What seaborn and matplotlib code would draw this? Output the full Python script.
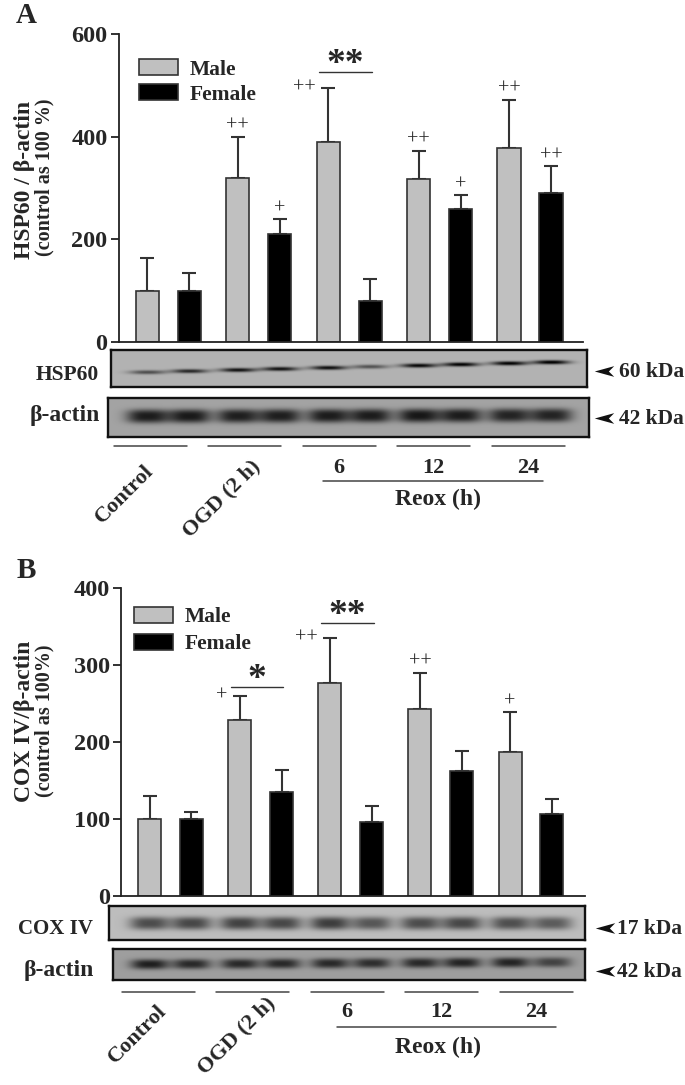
import numpy as np
import pandas as pd
import seaborn as sns
import matplotlib
matplotlib.use("Agg")
import matplotlib.pyplot as plt
from matplotlib.path import Path

# ---------------- data ----------------
groups = ["Control", "OGD (2 h)", "6", "12", "24"]
sexes = ["Male", "Female"]

hsp60_male = [100, 320, 390, 318, 378]
hsp60_male_sem = [64, 80, 105, 55, 94]
hsp60_female = [100, 210, 80, 259, 290]
hsp60_female_sem = [35, 30, 43, 27, 53]
hsp60_male_sig = ["", "++", "++", "++", "++"]
hsp60_female_sig = ["", "+", "", "+", "++"]
hsp60_brackets = [(2, 526, "**")]
hsp60_yticks = [0, 200, 400, 600]

cox4_male = [100, 229, 277, 243, 187]
cox4_male_sem = [30, 31, 58, 47, 52]
cox4_female = [100, 135, 96, 162, 107]
cox4_female_sem = [9, 29, 21, 26, 19]
cox4_male_sig = ["", "+", "++", "++", "+"]
cox4_female_sig = ["", "", "", "", ""]
cox4_brackets = [(1, 271, "*"), (2, 355, "**")]
cox4_yticks = [0, 100, 200, 300, 400]

# western blot band strengths, lanes in order M,F,M,F,...
hsp60_band = [0.40, 0.55, 0.64, 0.64, 0.65, 0.38, 0.68, 0.70, 0.70, 0.72]
actinA_band = [0.53, 0.54, 0.52, 0.52, 0.53, 0.53, 0.55, 0.53, 0.50, 0.50]
cox4_band = [0.44, 0.46, 0.48, 0.46, 0.50, 0.40, 0.44, 0.46, 0.43, 0.38]
actinB_band = [0.50, 0.46, 0.46, 0.46, 0.46, 0.44, 0.46, 0.48, 0.48, 0.36]

# ---------------- style ----------------
sns.set_style("ticks")
plt.rcParams["font.family"] = ["Liberation Serif", "DejaVu Serif"]
plt.rcParams["axes.linewidth"] = 1.3

W, H = 685, 1085
fig = plt.figure(figsize=(W / 100, H / 100), dpi=100)
GRAY = "#c0c0c0"
EDGE = "#333333"


def px_axes(x0, y0, x1, y1, **kw):
    return fig.add_axes([x0 / W, 1 - y1 / H, (x1 - x0) / W, (y1 - y0) / H], **kw)


ov = px_axes(0, 0, W, H)
ov.set_xlim(0, W)
ov.set_ylim(H, 0)
ov.axis("off")


def to_px(ax, x, y):
    dx, dy = ax.transData.transform((x, y))
    return dx, H - dy


def bar_panel(box, xlim, ylim, male, male_sem, female, female_sem, msig, fsig,
              brackets, yticks, leg_anchor, leg_pitch):
    ax = px_axes(*box)
    df = pd.DataFrame({
        "group": groups * 2,
        "sex": ["Male"] * len(groups) + ["Female"] * len(groups),
        "value": male + female,
    })
    sns.barplot(data=df, x="group", y="value", hue="sex", order=groups,
                hue_order=sexes, palette={"Male": GRAY, "Female": "black"},
                edgecolor=EDGE, linewidth=1.2, width=0.93, gap=0.45,
                errorbar=None, saturation=1, ax=ax)
    xs_m = [b.get_x() + b.get_width() / 2 for b in ax.containers[0]]
    xs_f = [b.get_x() + b.get_width() / 2 for b in ax.containers[1]]
    for xs, vals, sems in ((xs_m, male, male_sem), (xs_f, female, female_sem)):
        ax.errorbar(xs, vals, yerr=[np.zeros(len(vals)), sems], fmt="none",
                    ecolor=EDGE, elinewidth=1.5, capsize=4.7, capthick=1.5,
                    zorder=0.8)
    ax.set_xlim(*xlim)
    ax.set_ylim(*ylim)
    ax.set_yticks(yticks)
    ax.set_xlabel("")
    ax.set_ylabel("")
    sns.despine(ax=ax)
    for s in ("left", "bottom"):
        ax.spines[s].set_color("#222222")
    ax.tick_params(axis="x", length=0, labelbottom=False)
    ax.tick_params(axis="y", length=6, width=1.3, pad=2, labelsize=17.5,
                   color="#222222")
    for t in ax.get_yticklabels():
        t.set_fontweight("bold")

    br_groups = {g for g, _, _ in brackets}
    for xs, vals, sems, sig, is_male in ((xs_m, male, male_sem, msig, True),
                                         (xs_f, female, female_sem, fsig, False)):
        for i, lab in enumerate(sig):
            if not lab:
                continue
            top = vals[i] + sems[i]
            if is_male and i in br_groups:
                ax.annotate(lab, (xs[i], top), xytext=(-9, 0),
                            textcoords="offset points", ha="right", va="center",
                            fontsize=14.5)
            else:
                ax.annotate(lab, (xs[i], top), xytext=(0, 0.5),
                            textcoords="offset points", ha="center",
                            va="bottom", fontsize=14.5)
    for g, yv, lab in brackets:
        x0 = xs_m[g] - 0.1
        x1 = xs_f[g] + 0.02
        ax.plot([x0, x1], [yv, yv], color=EDGE, lw=1.0)
        ax.annotate(lab, ((x0 + x1) / 2, yv), xytext=(0, -1.5),
                    textcoords="offset points", ha="center", va="baseline",
                    fontsize=27, fontweight="bold")

    leg = ax.get_legend()
    handles = leg.legend_handles
    labels = [t.get_text() for t in leg.texts]
    leg.remove()
    for h in handles:
        h.set_edgecolor(EDGE)
        h.set_linewidth(1.2)
    fs = 15.5
    ax.legend(handles, labels, loc="upper left", bbox_to_anchor=leg_anchor,
              frameon=False, borderpad=0, borderaxespad=0,
              prop={"weight": "bold", "size": fs},
              handlelength=1.8, handleheight=0.74, handletextpad=0.55,
              labelspacing=leg_pitch)
    return ax, xs_m, xs_f


axA, amx, afx = bar_panel((118.5, 34, 583, 342), (-0.553, 4.586), (0, 600),
                          hsp60_male, hsp60_male_sem, hsp60_female, hsp60_female_sem,
                          hsp60_male_sig, hsp60_female_sig, hsp60_brackets,
                          hsp60_yticks, (0.044, 0.918), 0.22)
axB, bmx, bfx = bar_panel((121, 588, 585, 896), (-0.549, 4.599), (0, 400),
                          cox4_male, cox4_male_sem, cox4_female, cox4_female_sem,
                          cox4_male_sig, cox4_female_sig, cox4_brackets,
                          cox4_yticks, (0.028, 0.938), 0.3)


# ---------------- western blot strips ----------------
def blot(box, ax_bar, xs_m, xs_f, bands, bg, yc0, yc1, wx, wy, ex=2.6, ey=2.6):
    x0, y0, x1, y1 = box
    ax = px_axes(x0, y0, x1, y1)
    lanes = []
    for m, f in zip(xs_m, xs_f):
        lanes.append(to_px(ax_bar, m, 0)[0])
        lanes.append(to_px(ax_bar, f, 0)[0])
    xs = np.arange(x0, x1, 0.5)
    ys = np.arange(y0, y1, 0.5)
    X, Y = np.meshgrid(xs, ys)
    img = np.full(X.shape, bg)
    n = len(lanes)
    for k, (xc, a) in enumerate(zip(lanes, bands)):
        yc = yc0 + (yc1 - yc0) * k / (n - 1)
        img -= a * np.exp(-np.abs((X - xc) / wx) ** ex) * np.exp(-np.abs((Y - yc) / wy) ** ey)
    ax.imshow(np.clip(img, 0, 1), cmap="gray", vmin=0, vmax=1,
              extent=(x0, x1, y1, y0), aspect="auto", interpolation="bilinear")
    ax.set_xlim(x0, x1)
    ax.set_ylim(y1, y0)
    ax.set_xticks([])
    ax.set_yticks([])
    for s in ax.spines.values():
        s.set_visible(True)
        s.set_linewidth(1.7)
        s.set_color("#111111")
    return ax


blot((111, 350, 587, 387), axA, amx, afx, hsp60_band, 0.70, 372, 362, 18, 2.0, 2.4, 2.2)
blot((108, 398, 589, 437), axA, amx, afx, actinA_band, 0.64, 416, 415, 21, 6.8, 3.0, 2.8)
blot((109, 906, 585, 940), axB, bmx, bfx, cox4_band, 0.74, 923, 923, 20, 6.5, 3.0, 2.8)
blot((113, 949, 585, 980), axB, bmx, bfx, actinB_band, 0.62, 964, 962, 19, 5.0, 3.0, 2.6)

# ---------------- text / labels ----------------
bold = dict(fontweight="bold")
ov.text(16, 23, "A", fontsize=21, ha="left", va="baseline", **bold)
ov.text(17, 578, "B", fontsize=21, ha="left", va="baseline", **bold)

for (xa, ya, t1), (xb, yb, t2) in (((30, 180, "HSP60 / \u03b2-actin"), (49, 177, "(control as 100 %)")),
                                   ((30, 721, "COX IV/\u03b2-actin"), (49, 721, "(control as 100%)"))):
    ov.text(xa, ya, t1, rotation=90, rotation_mode="anchor", ha="center",
            va="baseline", fontsize=17, **bold)
    ov.text(xb, yb, t2, rotation=90, rotation_mode="anchor", ha="center",
            va="baseline", fontsize=14.5, **bold)

ov.text(99, 380, "HSP60", ha="right", va="baseline", fontsize=15.5, **bold)
ov.text(100, 421, "\u03b2-actin", ha="right", va="baseline", fontsize=17, **bold)
ov.text(93, 934, "COX IV", ha="right", va="baseline", fontsize=15, **bold)
ov.text(94, 976, "\u03b2-actin", ha="right", va="baseline", fontsize=17, **bold)

arrow = Path([(-1.0, 0.0), (1.0, 0.55), (0.45, 0.0), (1.0, -0.55), (-1.0, 0.0)],
             [Path.MOVETO, Path.LINETO, Path.LINETO, Path.LINETO, Path.CLOSEPOLY])
for (ax_, ay_), (tx, ty, lab) in (((604, 371), (619, 377, "60 kDa")),
                                  ((604, 418), (619, 424, "42 kDa")),
                                  ((605, 928), (617, 934, "17 kDa")),
                                  ((605, 971), (617, 977, "42 kDa"))):
    ov.plot([ax_], [ay_], marker=arrow, markersize=14, color="#111111", mew=0)
    ov.text(tx, ty, lab, ha="left", va="baseline", fontsize=15.5, **bold)

# group underlines, reox labels
for y_ul, ul0, ul_pitch, y_num, reox_y, reox_x0, reox_x1, reox_t in (
        (446, 150.5, 94.4, 473, 481, 323, 543, 505),
        (992, 158.5, 94.4, 1017, 1027, 337, 556, 1053)):
    centers = [ul0 + ul_pitch * k for k in range(len(groups))]
    for c in centers:
        ov.plot([c - 36.5, c + 36.5], [y_ul, y_ul], color="#444444", lw=1.1)
    for k in (2, 3, 4):
        ov.text(centers[k], y_num, groups[k], ha="center", va="baseline",
                fontsize=16, **bold)
    ov.plot([reox_x0, reox_x1], [reox_y, reox_y], color="#444444", lw=1.1)
    ov.text(438.5, reox_t, "Reox (h)", ha="center", va="baseline",
            fontsize=17, **bold)

for x_, y_, lab in ((154, 472, groups[0]), (261, 467, groups[1]),
                    (167, 1012, groups[0]), (276, 1004, groups[1])):
    ov.text(x_, y_, lab, rotation=45, rotation_mode="anchor", ha="right",
            va="baseline", fontsize=16, **bold)

fig.savefig("out.png", dpi=100)
